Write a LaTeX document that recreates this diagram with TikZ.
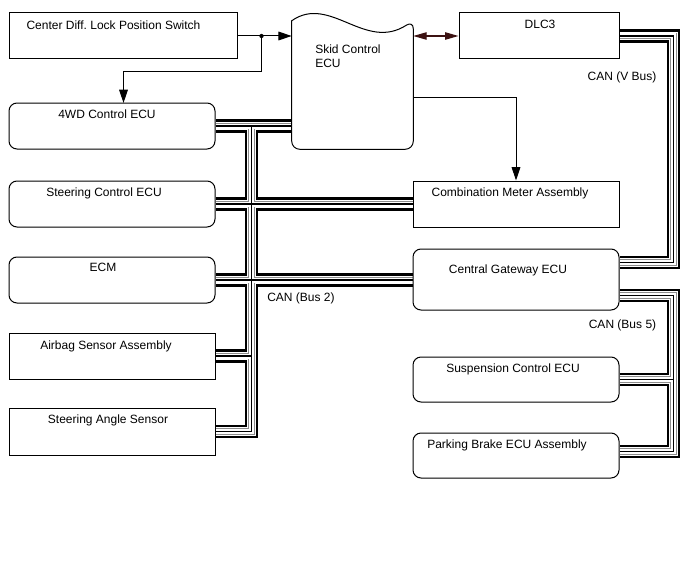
\documentclass[tikz,border=0pt]{standalone}
\usepackage{fontspec}
\setmainfont{Liberation Sans}
\usetikzlibrary{arrows.meta,calc,fit,backgrounds}
\definecolor{dlcline}{RGB}{60,18,18}

\begin{document}
\begin{tikzpicture}[x=0.75pt,y=-0.75pt,line join=miter,
  box/.style={draw,line width=0.75pt,fill=white,inner sep=0pt},
  ecu/.style={box,rounded corners=6pt},
  lbl/.style={anchor=base,inner sep=0pt,font=\fontsize{9pt}{10.3pt}\selectfont},
  arr/.style={line width=0.75pt,-{Triangle[length=10pt,width=6.5pt]}},
  dblarr/.style={line width=0.9pt,dlcline,{Triangle[length=10pt,width=5.5pt]}-{Triangle[length=10pt,width=5.5pt]}}]
  \useasboundingbox (0,0) rectangle (688,560);
  \node[box,fit={(9,13) (237,59)}] (sw) {};
  \node[box,fit={(459,13) (619,59)}] (dlc) {};
  \node[inner sep=0pt,fit={(292,21) (413,149)}] (skid) {};
  \draw[line width=0.75pt,fill=white] (skid.north east) .. controls (365,52) and (330,-6) .. (skid.north west)
    [rounded corners=6pt] -- (skid.south west) -- (skid.south east) -- cycle;
  \node[ecu,fit={(9,103) (215,149)}] (fwd) {};
  \node[ecu,fit={(9,181) (215,227)}] (sctl) {};
  \node[ecu,fit={(9,257) (215,303)}] (ecm) {};
  \node[box,fit={(9,333) (215,379)}] (air) {};
  \node[box,fit={(9,408) (215,455)}] (sang) {};
  \node[box,fit={(413,181) (619,227)}] (comb) {};
  \node[ecu,fit={(413,249) (619,310)}] (gw) {};
  \node[ecu,fit={(413,357) (619,402)}] (susp) {};
  \node[ecu,fit={(413,433) (619,478)}] (park) {};

  \node[lbl] (sw-t) at (113.5,29.5) {Center Diff.\ Lock Position Switch};
  \node[lbl] (dlc-t) at (540,28.5) {DLC3};
  \node[lbl,anchor=north west,align=left] (skid-t) at (315,44.9) {Skid Control\\ECU};
  \node[lbl] (fwd-t) at (107,118.5) {4WD Control ECU};
  \node[lbl] (sctl-t) at (104,196.5) {Steering Control ECU};
  \node[lbl] (ecm-t) at (103,271.5) {ECM};
  \node[lbl] (air-t) at (106,349.5) {Airbag Sensor Assembly};
  \node[lbl] (sang-t) at (108,423.5) {Steering Angle Sensor};
  \node[lbl] (comb-t) at (510,196.5) {Combination Meter Assembly};
  \node[lbl] (gw-t) at (508,273.5) {Central Gateway ECU};
  \node[lbl] (susp-t) at (513,372.5) {Suspension Control ECU};
  \node[lbl] (park-t) at (507,448.5) {Parking Brake ECU Assembly};
  \node[lbl] (vbus-t) at (622,80.5) {CAN (V Bus)};
  \node[lbl] (bus2-t) at (301,301.5) {CAN (Bus 2)};
  \node[lbl] (bus5-t) at (622.5,328.5) {CAN (Bus 5)};

  \coordinate (b2top) at ($(fwd.east)+(36,0)$);
  \begin{scope}[on background layer]
    \foreach \w/\c in {10pt/black,6.4pt/white,5.1pt/black!45,3.75pt/white,0.8pt/black}{
      \draw[line width=\w,\c] (fwd.east) -- (fwd.east -| skid.west)
        (b2top) |- (sang.east)
        (sctl.east) -- (comb.west)
        (ecm.east) -- (ecm.east -| gw.west)
        (air.east) -- (air.east -| b2top)
        (dlc.east) -- ++(54,0) |- ($(gw.east)+(0,-17)$)
        ($(gw.east)+(0,16)$) -- ++(54,0) |- ($(park.east)+(0,-4)$)
        (susp.east) -- ++(54,0);
    }
  \end{scope}

  \coordinate (split) at ($(sw.east)+(24,0)$);
  \draw[arr] (sw.east) -- (sw.east -| skid.west);
  \draw[arr] (split) |- ++(-138,36) -- ++(0,31);
  \fill (split) circle (1.6pt);
  \draw[dblarr] (dlc.west -| skid.east) -- (dlc.west);
  \draw[arr] ($(skid.east)+(0,12)$) -| (comb.north);
\end{tikzpicture}
\end{document}
